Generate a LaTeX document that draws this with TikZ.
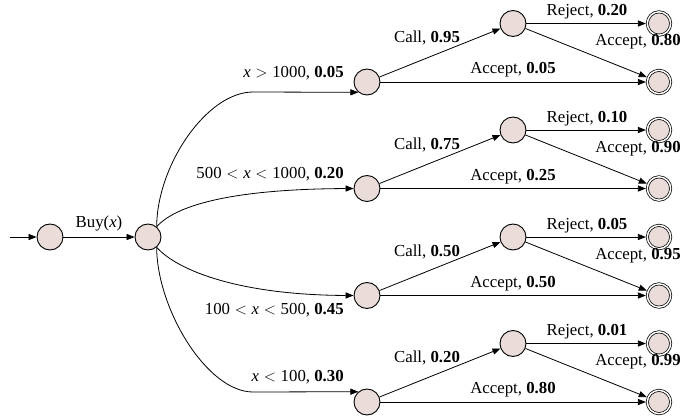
\documentclass[tikz,border=0pt]{standalone}
\usepackage{fontspec}
\setmainfont{Liberation Serif}
\usetikzlibrary{arrows.meta}
\definecolor{nodefill}{RGB}{234,221,217}
\newcommand{\myLt}{\hspace{0.28em}$<$\hspace{0.28em}}
\newcommand{\myGt}{\hspace{0.28em}$>$\hspace{0.28em}}
\begin{document}
\begin{tikzpicture}[x=0.75pt,y=-0.75pt,
  st/.style={circle,draw=black,line width=0.7pt,fill=nodefill,minimum size=19.5pt,inner sep=0pt},
  fin/.style={circle,draw=black,line width=0.55pt,double=white,double distance=1.1pt,fill=nodefill,minimum size=17.5pt,inner sep=0pt,outer sep=1.1pt},
  lbl/.style={font=\fontsize{12.6}{14}\selectfont,inner sep=0pt},
  arr/.style={-{Triangle[length=6pt,width=4.6pt]},line width=0.6pt},
]
\useasboundingbox (0,0) rectangle (700,419);
\node[st] (A) at (50,237) {};
\node[st] (B) at (148,237) {};
\coordinate (in) at (10,237);
\draw[arr] (in) -- (A);
\draw[arr] (A) -- (B);
\node[lbl] (lbuy) at (99,223) {Buy(\textit{x})};
\foreach \i/\y/\pc/\pr/\pa/\pb in {1/82/0.95/0.20/0.80/0.05,2/188.5/0.75/0.10/0.90/0.25,3/295.5/0.50/0.05/0.95/0.50,4/402/0.20/0.01/0.99/0.80}{
  \pgfmathsetmacro{\yc}{\y-58.5}
  \pgfmathsetmacro{\ycall}{\y-44}
  \pgfmathsetmacro{\yrej}{\y-70}
  \pgfmathsetmacro{\yacu}{\y-40}
  \pgfmathsetmacro{\yacl}{\y-12}
  \node[st] (L\i) at (367,\y) {};
  \node[st] (C\i) at (513,\yc) {};
  \node[fin] (F\i) at (659,\yc) {};
  \node[fin] (G\i) at (659,\y) {};
  \draw[arr] (L\i) -- (C\i);
  \draw[arr] (C\i) -- (F\i);
  \draw[arr] (C\i) -- (G\i);
  \draw[arr] (L\i) -- (G\i);
  \node[lbl] (lc\i) at (427,\ycall) {Call, \textbf{\pc}};
  \node[lbl] (lr\i) at (587,\yrej) {Reject, \textbf{\pr}};
  \node[lbl] (lu\i) at (638,\yacu) {Accept, \textbf{\pa}};
  \node[lbl] (ll\i) at (513,\yacl) {Accept, \textbf{\pb}};
}
\draw[arr] (B.50) .. controls (157,165) and (207,92) .. (253,92) -- (L1.230);
\draw[arr] (B.50) .. controls (178,203) and (240,189) .. (L2.west);
\draw[arr] (B.-50) .. controls (178,271) and (240,295) .. (L3.west);
\draw[arr] (B.-50) .. controls (157,309) and (207,392) .. (253,392) -- (L4.130);
\node[lbl,anchor=east] (l1) at (344,73) {\textit{x}\myGt 1000, \textbf{0.05}};
\node[lbl,anchor=east] (l2) at (344,174) {500\myLt\textit{x}\myLt 1000, \textbf{0.20}};
\node[lbl,anchor=east] (l3) at (344,310) {100\myLt\textit{x}\myLt 500, \textbf{0.45}};
\node[lbl,anchor=east] (l4) at (344,377) {\textit{x}\myLt 100, \textbf{0.30}};
\end{tikzpicture}
\end{document}
